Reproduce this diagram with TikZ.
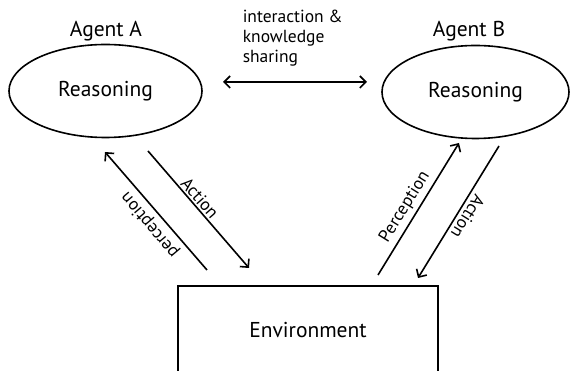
\documentclass[tikz,border=0pt]{standalone}
\usepackage{fontspec}
\setmainfont{PT Sans}
\usetikzlibrary{arrows.meta,shapes.geometric}
\begin{document}
\begin{tikzpicture}[x=1pt,y=-1pt,
  line width=1.6pt,
  barb/.tip={Straight Barb[length=6pt,width=12pt,line width=1.6pt]},
  flow/.style={-barb},
  big/.style={font=\fontsize{21.5}{24}\selectfont},
  agent/.style={ellipse,draw,minimum width=#1,minimum height=93pt,inner sep=0pt,big},
  title/.style={big,inner sep=0pt},
  lbl/.style={font=\fontsize{17.5}{20}\selectfont,inner sep=0pt}]
\useasboundingbox (0,0) rectangle (571,371);
\clip (0,0) rectangle (571,371);

% the two agents
\node[agent=193pt] (ra) at (105.5,91) {Reasoning};
\node[agent=187pt] (rb) at (475.5,92) {Reasoning};
\node[title] (ta) at (106,31) {Agent A};
\node[title] (tb) at (469,31) {Agent B};

% shared environment, open at the bottom edge
\node[draw,minimum width=260pt,minimum height=140pt,anchor=north west] (env) at (177,285) {};
\node[title] (envt) at (308,330) {Environment};

% interaction between the agents
\coordinate (ia) at (223,82);
\coordinate (ib) at (367,82);
\draw[barb-barb] (ia) -- (ib);
\node[lbl,align=left,anchor=north west] (il) at (242,9) {interaction \&\\knowledge\\sharing};

% agent A and environment
\coordinate (pa0) at (207,270);
\coordinate (pa1) at (105,152);
\coordinate (aa0) at (148,151);
\coordinate (aa1) at (249,268);
\draw[flow] (pa0) -- (pa1);
\draw[flow] (aa0) -- (aa1);
\node[lbl,rotate=130] (pal) at (150,225) {perception};
\node[lbl,rotate=-49] (aal) at (200,198) {Action};

% agent B and environment
\coordinate (pb0) at (378,275);
\coordinate (pb1) at (459,143);
\coordinate (ab0) at (499,146);
\coordinate (ab1) at (418,278);
\draw[flow] (pb0) -- (pb1);
\draw[flow] (ab0) -- (ab1);
\node[lbl,rotate=58] (pbl) at (405,207) {Perception};
\node[lbl,rotate=-122] (abl) at (468,217) {Action};
\end{tikzpicture}
\end{document}
